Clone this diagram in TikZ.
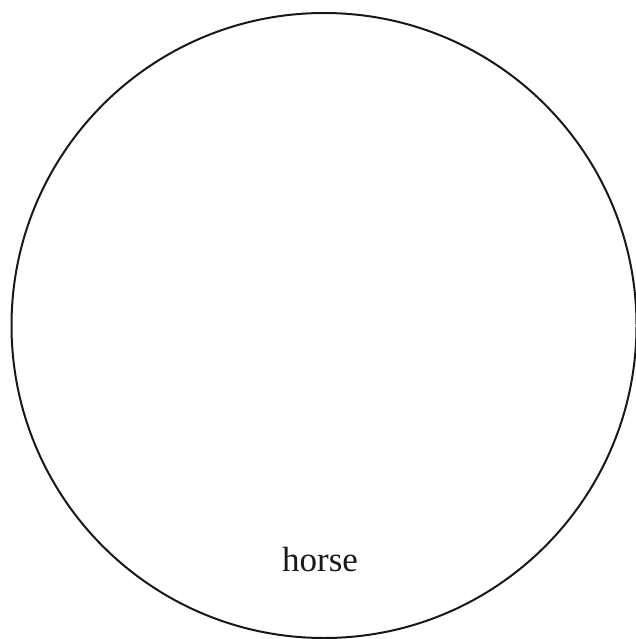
\documentclass[tikz,border=0pt]{standalone}
\usepackage{fontspec}
\setmainfont{Liberation Serif}
\usetikzlibrary{positioning}

\begin{document}
\begin{tikzpicture}[
  x=1pt, y=1pt,
  ring/.style={
    draw=black!90,
    circle,
    line width=2pt,
    minimum size=625pt,
    inner sep=0pt
  },
  label/.style={
    font=\fontsize{35}{40}\selectfont,
    text=black!90,
    anchor=base
  }
]
\useasboundingbox (0,0) rectangle (635,-639);
\node[ring] (circ) at (324,-325.5) {};
\node[label] (name) at (320,-571) {horse};
\end{tikzpicture}
\end{document}
